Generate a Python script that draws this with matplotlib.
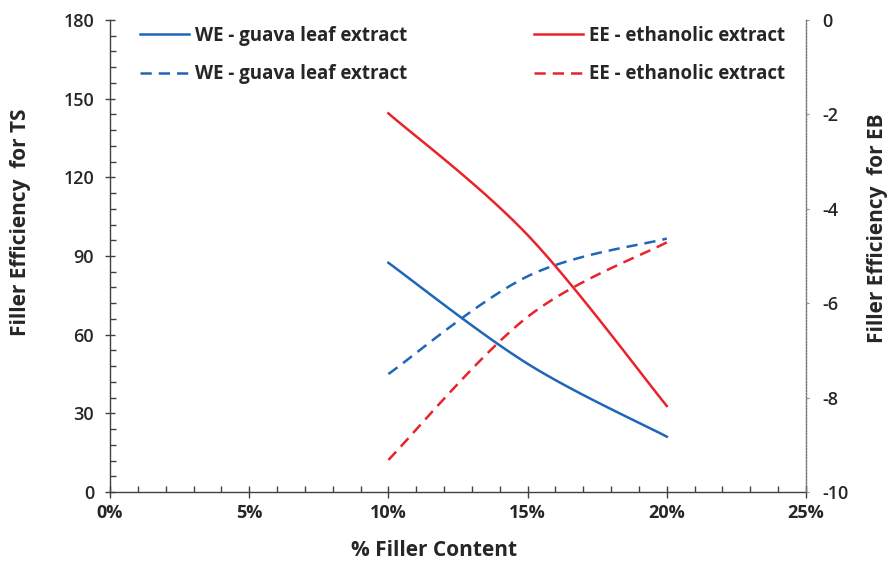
import numpy as np
import matplotlib
matplotlib.use("Agg")
import matplotlib.pyplot as plt
from matplotlib.ticker import MultipleLocator, FuncFormatter

plt.rcParams["axes.unicode_minus"] = False

# Filler content (%) and measured filler efficiencies
filler_pct = [10, 15, 20]
we_ts = [87.4, 48.9, 21.1]      # WE, tensile strength (left axis)
ee_ts = [144.4, 98.0, 32.8]     # EE, tensile strength (left axis)
we_eb = [-7.50, -5.43, -4.63]   # WE, elongation at break (right axis)
ee_eb = [-9.32, -6.29, -4.71]   # EE, elongation at break (right axis)

x_ticks = [0, 5, 10, 15, 20, 25]
ts_ticks = [0, 30, 60, 90, 120, 150, 180]
eb_ticks = [-10, -8, -6, -4, -2, 0]

BLUE = "#1f66b8"
RED = "#e8232a"
TXT = "#262626"
FONT = "Open Sans"


def smooth(xs, ys, n=60):
    """Smoothed curve through the points (Catmull-Rom style Bezier segments)."""
    p = np.column_stack([xs, ys]).astype(float)
    pts = np.vstack([p[0], p, p[-1]])
    out = []
    t = np.linspace(0, 1, n)[:, None]
    for i in range(1, len(pts) - 2):
        p0, p1, p2, p3 = pts[i - 1], pts[i], pts[i + 1], pts[i + 2]
        c1 = p1 + (p2 - p0) / 6.0
        c2 = p2 - (p3 - p1) / 6.0
        seg = ((1 - t) ** 3) * p1 + 3 * ((1 - t) ** 2) * t * c1 \
            + 3 * (1 - t) * t ** 2 * c2 + t ** 3 * p2
        out.append(seg if i == 1 else seg[1:])
    c = np.vstack(out)
    return c[:, 0], c[:, 1]


W, H = 892, 566
fig = plt.figure(figsize=(W / 100, H / 100), dpi=100)
ax = fig.add_axes([110 / W, 1 - 492 / H, 696 / W, 472 / H])
ax2 = ax.twinx()

lw = 1.8
dash = (0, (4.5, 2.8))

h1, = ax.plot(*smooth(filler_pct, we_ts), color=BLUE, lw=lw,
              label="WE - guava leaf extract")
h3, = ax.plot(*smooth(filler_pct, ee_ts), color=RED, lw=lw,
              label="EE - ethanolic extract")
h2, = ax2.plot(*smooth(filler_pct, we_eb), color=BLUE, lw=lw, linestyle=dash,
               label="WE - guava leaf extract")
h4, = ax2.plot(*smooth(filler_pct, ee_eb), color=RED, lw=lw, linestyle=dash,
               label="EE - ethanolic extract")

# x axis
ax.set_xlim(0, 25)
ax.set_xticks(x_ticks)
ax.xaxis.set_minor_locator(MultipleLocator(1))
ax.xaxis.set_major_formatter(FuncFormatter(lambda v, _: f"{v:.0f}%"))

# left axis
ax.set_ylim(0, 180)
ax.set_yticks(ts_ticks)
ax.yaxis.set_minor_locator(MultipleLocator(6))

# right axis
ax2.set_ylim(-10, 0)
ax2.set_yticks(eb_ticks)

for a in (ax, ax2):
    a.spines["top"].set_visible(False)

ax.spines["right"].set_visible(False)
ax2.spines["left"].set_visible(False)
ax2.spines["bottom"].set_visible(False)
ax.spines["left"].set_color("#404040")
ax.spines["bottom"].set_color("#404040")
ax.spines["left"].set_linewidth(1.0)
ax.spines["bottom"].set_linewidth(1.0)
ax2.spines["right"].set_color("#707070")
ax2.spines["right"].set_linestyle((0, (1, 1.2)))
ax2.spines["right"].set_linewidth(1.0)

ax.tick_params(axis="x", which="major", direction="inout", length=9,
               width=1.0, color="#404040", pad=4)
ax.tick_params(axis="x", which="minor", direction="in", length=4,
               width=1.0, color="#404040")
ax.tick_params(axis="y", which="major", direction="inout", length=7,
               width=1.0, color="#404040", pad=8)
ax.tick_params(axis="y", which="minor", direction="in", length=4,
               width=1.0, color="#404040")
ax2.tick_params(axis="y", which="major", direction="out", length=2,
                width=0.8, color="#909090", pad=10)

for lab in ax.get_yticklabels() + ax2.get_yticklabels():
    lab.set_fontfamily(FONT)
    lab.set_fontsize(13)
    lab.set_fontweight("semibold")
    lab.set_color(TXT)
for lab in ax.get_xticklabels():
    lab.set_fontfamily(FONT)
    lab.set_fontsize(13)
    lab.set_fontweight("bold")
    lab.set_color(TXT)

label_kw = dict(fontfamily=FONT, fontsize=15, fontweight="bold", color=TXT,
                ha="center", va="center")
fig.text(434 / W, 1 - 551 / H, "% Filler Content", **label_kw)
fig.text(21 / W, 1 - 222 / H, "Filler Efficiency  for TS", rotation=90,
         **label_kw)
fig.text(878 / W, 1 - 228 / H, "Filler Efficiency  for EB", rotation=90,
         **label_kw)

leg = ax.legend(handles=[h1, h2, h3, h4], ncol=2, loc="upper left",
                bbox_to_anchor=((140 - 110) / 696, (492 - 26) / 472),
                frameon=False, borderpad=0, borderaxespad=0,
                handlelength=2.6, handletextpad=0.35, columnspacing=6.75,
                labelspacing=0.98,
                prop={"family": FONT, "size": 13.5, "weight": "bold"})
for t in leg.get_texts():
    t.set_color(TXT)

fig.savefig("out.png", dpi=100)
